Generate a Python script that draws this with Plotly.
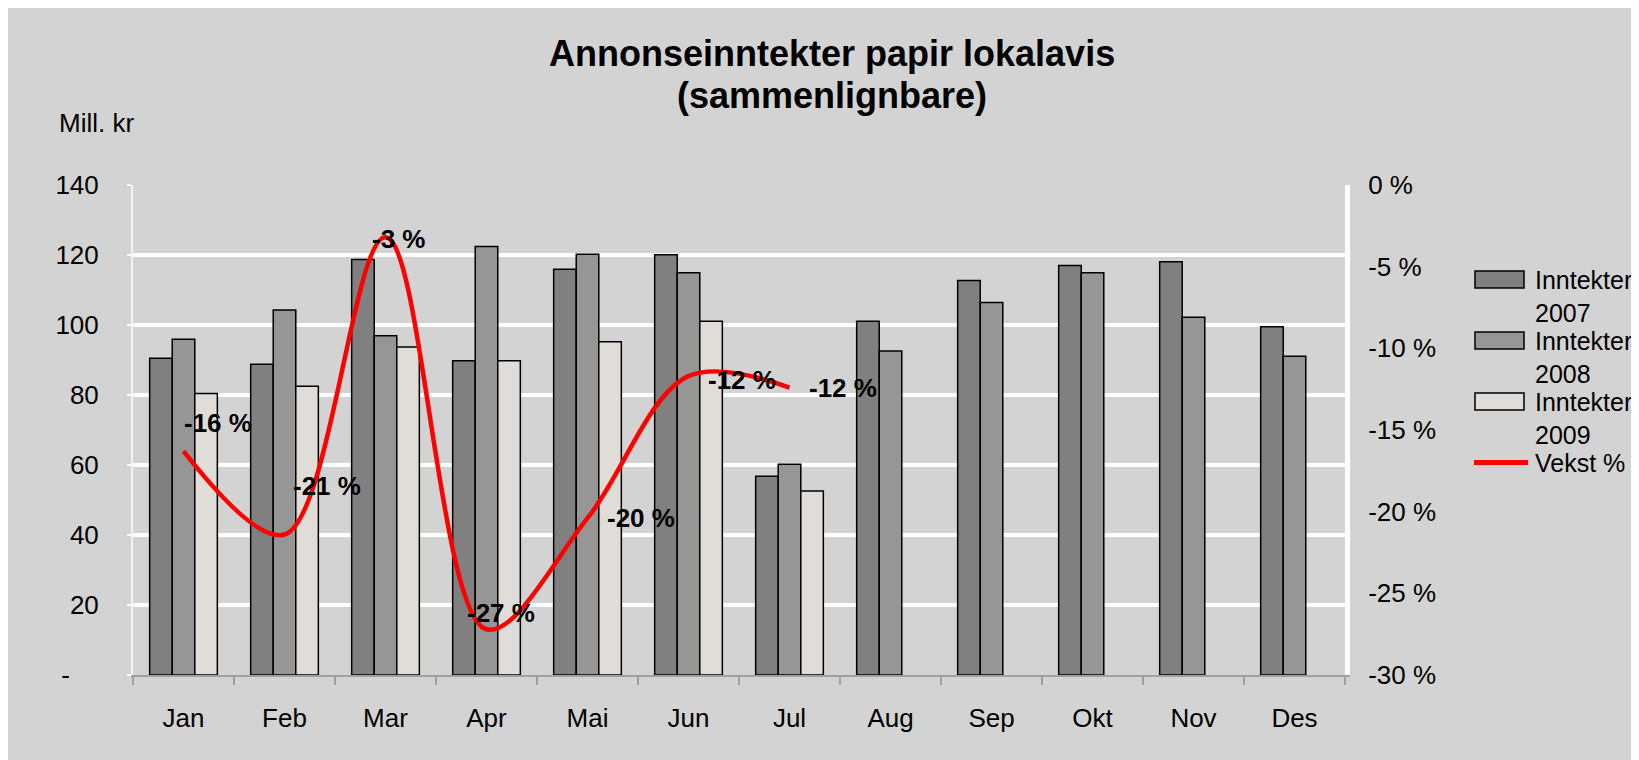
import plotly.graph_objects as go

# ---------------- data ----------------
months = ["Jan", "Feb", "Mar", "Apr", "Mai", "Jun", "Jul", "Aug", "Sep", "Okt", "Nov", "Des"]
inntekter_2007 = [90.5, 88.8, 118.7, 89.8, 115.9, 120.1, 56.8, 101.1, 112.7, 117.0, 118.1, 99.5]
inntekter_2008 = [95.9, 104.3, 96.9, 122.4, 120.2, 114.9, 60.2, 92.6, 106.4, 114.9, 102.2, 91.1]
inntekter_2009 = [80.4, 82.5, 93.7, 89.8, 95.2, 101.1, 52.6, None, None, None, None, None]
vekst_months = ["Jan", "Feb", "Mar", "Apr", "Mai", "Jun", "Jul"]
vekst_pct = [-16.3, -21.4, -3.2, -27.2, -20.4, -11.7, -12.4]

left_tickvals = [0, 20, 40, 60, 80, 100, 120, 140]
left_ticktext = ["-\u00a0\u00a0\u00a0\u00a0", "20", "40", "60", "80", "100", "120", "140"]
right_tickvals = [-30, -25, -20, -15, -10, -5, 0]
right_ticktext = ["-30 %", "-25 %", "-20 %", "-15 %", "-10 %", "-5 %", "0 %"]

series_names = ["Inntekter 2007", "Inntekter 2008", "Inntekter 2009"]
line_name = "Vekst %"

# ---------------- styles / layout constants ----------------
W_FIG, H_FIG = 1639, 760
OFF = 8                       # page body margin
L, R, T, B = 133, 1345, 185, 675   # plot area on screen
PW, PH = R - L, B - T
BG = "#D3D3D3"
bar_colors = ["#808080", "#969696", "#E0DCD8"]
line_color = "#FF0000"
FONT = "Liberation Sans, Arial, sans-serif"

# label offsets (pixels) for the growth data labels
label_dx = [34, 42, 13, 14, 53, 53, 53]
label_dy = [28, 49, -2, 16, 0, -4, 0]


def px2x(px):
    return (px - L) / PW


def py2y(py):
    return (B - py) / PH


fig = go.Figure()

for name, vals, col in zip(series_names, [inntekter_2007, inntekter_2008, inntekter_2009], bar_colors):
    fig.add_trace(go.Bar(
        x=months, y=vals, name=name,
        marker=dict(color=col, line=dict(color="#000000", width=1.5)),
        showlegend=False,
    ))

fig.add_trace(go.Scatter(
    x=vekst_months, y=vekst_pct, name=line_name, yaxis="y2",
    mode="lines",
    line=dict(color=line_color, width=4.5, shape="spline", smoothing=1.0),
    showlegend=False,
))

annotations = []
# growth data labels
for m, v, dx, dy in zip(vekst_months, vekst_pct, label_dx, label_dy):
    annotations.append(dict(
        x=m, y=v, xref="x", yref="y2", text=f"{round(v)} %", showarrow=False,
        xanchor="center", yanchor="middle", xshift=dx, yshift=dy,
        font=dict(family=FONT, size=26, color="#000000", weight="bold"),
    ))

# title (two lines)
annotations.append(dict(
    x=px2x(832), y=py2y(54), xref="paper", yref="paper",
    text="Annonseinntekter papir lokalavis", showarrow=False,
    xanchor="center", yanchor="middle",
    font=dict(family=FONT, size=36, color="#000000", weight="bold"),
))
annotations.append(dict(
    x=px2x(832), y=py2y(95), xref="paper", yref="paper",
    text="(sammenlignbare)", showarrow=False,
    xanchor="center", yanchor="middle",
    font=dict(family=FONT, size=36, color="#000000", weight="bold"),
))
# y axis unit
annotations.append(dict(
    x=px2x(57), y=py2y(123), xref="paper", yref="paper",
    text="Mill. kr", showarrow=False, xanchor="left", yanchor="middle",
    font=dict(family=FONT, size=26, color="#000000"),
))

# custom legend
shapes = []
legend_labels = ["Inntekter<br>2007", "Inntekter<br>2008", "Inntekter<br>2009", "Vekst %"]
leg_top, leg_step = 279.5, 61
sw_x0, sw_x1, text_x = 1475, 1524, 1533
for i, lab in enumerate(legend_labels):
    cy = leg_top + i * leg_step
    if i < 3:
        shapes.append(dict(
            type="rect", xref="paper", yref="paper",
            x0=px2x(sw_x0), x1=px2x(sw_x1), y0=py2y(cy - 8.5), y1=py2y(cy + 8.5),
            fillcolor=bar_colors[i], line=dict(color="#000000", width=1.5),
        ))
    else:
        shapes.append(dict(
            type="line", xref="paper", yref="paper",
            x0=px2x(1474), x1=px2x(1528), y0=py2y(cy), y1=py2y(cy),
            line=dict(color=line_color, width=5),
        ))
    nlines = lab.count("<br>") + 1
    annotations.append(dict(
        x=px2x(text_x), y=py2y(cy + (nlines - 1) * 16.5), xref="paper", yref="paper",
        text=lab, showarrow=False, xanchor="left", yanchor="middle", align="left",
        font=dict(family=FONT, size=25, color="#000000"),
    ))

fig.update_layout(
    width=W_FIG, height=H_FIG, autosize=False,
    margin=dict(l=L - OFF, r=W_FIG - (R - OFF), t=T - OFF, b=H_FIG - (B - OFF), pad=0),
    paper_bgcolor=BG, plot_bgcolor=BG,
    barmode="group", bargap=0.33, bargroupgap=0.0,
    showlegend=False,
    font=dict(family=FONT, size=26, color="#000000"),
    xaxis=dict(
        type="category", categoryorder="array", categoryarray=months,
        tickson="boundaries", ticks="outside", ticklen=8, tickcolor="#A0A0A0", tickwidth=1.5,
        showline=True, linecolor="#A0A0A0", linewidth=1.5,
        showgrid=False, tickfont=dict(family=FONT, size=26, color="#000000"),
        ticklabelstandoff=19,
    ),
    yaxis=dict(
        range=[0, 140], tickvals=left_tickvals, ticktext=left_ticktext,
        showgrid=True, gridcolor="#FFFFFF", gridwidth=4,
        zeroline=False,
        showline=True, linecolor="#F2F2F2", linewidth=2,
        ticks="outside", ticklen=4, tickcolor="#FFFFFF", tickwidth=2,
        tickfont=dict(family=FONT, size=26, color="#000000"),
        ticklabelstandoff=23,
    ),
    yaxis2=dict(
        overlaying="y", side="right", range=[-30, 0],
        tickvals=right_tickvals, ticktext=right_ticktext,
        showgrid=False, zeroline=False,
        showline=True, linecolor="#FFFFFF", linewidth=5,
        ticks="", tickfont=dict(family=FONT, size=26, color="#000000"),
        ticklabelstandoff=13,
    ),
    annotations=annotations,
    shapes=shapes,
)

fig.write_html("out.html")
